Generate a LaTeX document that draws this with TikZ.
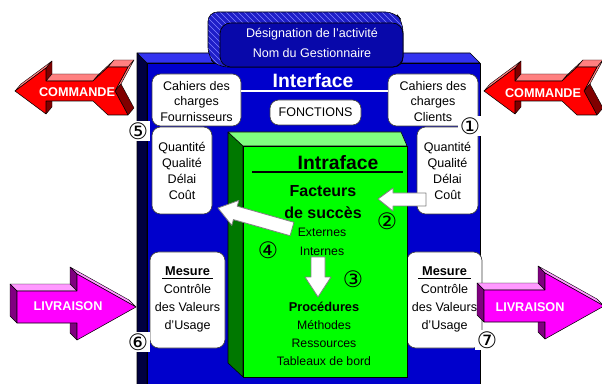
\documentclass[tikz,border=0pt]{standalone}
\usepackage{fontspec}
\setmainfont{Liberation Sans}
\newfontfamily\dvfont{DejaVu Sans}
\definecolor{bfront}{RGB}{0,0,204}
\definecolor{btop}{RGB}{51,51,240}
\definecolor{bside}{RGB}{0,0,64}
\definecolor{dfront}{RGB}{8,8,170}
\definecolor{dhatch}{RGB}{30,30,200}
\definecolor{hatchc}{RGB}{130,130,255}
\definecolor{gfront}{RGB}{0,255,0}
\definecolor{gtop}{RGB}{128,255,128}
\definecolor{gside}{RGB}{0,120,0}
\definecolor{rfront}{RGB}{255,0,0}
\definecolor{rtop}{RGB}{255,128,128}
\definecolor{rside}{RGB}{128,0,0}
\definecolor{mfront}{RGB}{255,0,255}
\definecolor{mtop}{RGB}{255,153,255}
\definecolor{mside}{RGB}{128,0,128}
\newcommand\arrface[5]{\filldraw[fill=#5,draw=black,line width=0.3pt] (#1,#2) -- (#3,#4) -- ({#3+\ddx},{#4+\ddy}) -- ({#1+\ddx},{#2+\ddy}) -- cycle;}
\begin{document}
\begin{tikzpicture}[x=0.75pt,y=-0.75pt,line join=round,
  wbox/.style={draw=black!75,fill=white,rounded corners=6.5pt,line width=0.5pt},
  txt/.style={font=\fontsize{9.4}{12}\selectfont,align=center,inner sep=0pt},
  btxt/.style={font=\bfseries\fontsize{9.6}{12}\selectfont,align=center,inner sep=0pt},
  dtxt/.style={font=\fontsize{9.4}{12}\selectfont,text=white,inner sep=0pt},
  bigtxt/.style={font=\bfseries\fontsize{14.5}{16}\selectfont,inner sep=0pt},
  cmdtxt/.style={font=\bfseries\fontsize{9.5}{11}\selectfont,text=white,inner sep=0pt},
  num/.style={font=\dvfont\fontsize{17}{17}\selectfont,inner sep=0.5pt},
  numbg/.style={num,fill=white,inner sep=1.5pt},
  warrow/.style={fill=white,draw=black!50,line width=0.6pt},
  edge3d/.style={draw=black,line width=0.4pt}]
\useasboundingbox (0,0) rectangle (602,384);
\clip (0,0) rectangle (602,384);

% ---------- blue main block ----------
\filldraw[fill=bside,edge3d] (137,53) -- (147,63) -- (147,392) -- (137,392) -- cycle;
\filldraw[fill=btop,edge3d] (137,53) -- (470,53) -- (480,63) -- (147,63) -- cycle;
\filldraw[fill=bfront,edge3d] (147,63) rectangle (480,392);

% ---------- designation block ----------
\begin{scope}
\clip[rounded corners=7] (208,12) -- (395,12) -- (403,22) -- (403,67) -- (218,67) -- (208,57) -- cycle;
\fill[dhatch] (200,5) rectangle (410,70);
\foreach \i in {0,6,...,270} \draw[hatchc,line width=0.5pt] ({130+\i},0) -- ({200+\i},70);
\end{scope}
\draw[edge3d,rounded corners=7] (208,12) -- (395,12) -- (403,22) -- (403,67) -- (218,67) -- (208,57) -- cycle;
\filldraw[fill=dfront,draw=black,line width=0.5pt,rounded corners=8] (220,23) rectangle (403,67);
\node[dtxt] (des1) at (312,34) {Désignation de l'activité};
\node[dtxt] (des2) at (312,53) {Nom du Gestionnaire};

% ---------- COMMANDE arrows ----------
\begin{scope}[shift={(15,91)}]
\def\ddx{6}\def\ddy{-7}
\arrface{0}{0}{31}{-23}{rtop}
\arrface{31}{-23}{31}{-10}{rside}
\arrface{31}{-10}{78}{-10}{rtop}
\arrface{78}{-10}{93}{-24}{rtop}
\arrface{93}{-24}{113}{-24}{rtop}
\arrface{113}{-24}{100}{0}{rtop}
\arrface{100}{0}{113}{24}{rside}
\arrface{31}{10}{31}{23}{rside}
\filldraw[fill=rfront,edge3d] (0,0) -- (31,-23) -- (31,-10) -- (78,-10) -- (93,-24) -- (113,-24) -- (100,0) -- (113,24) -- (93,24) -- (78,10) -- (31,10) -- (31,23) -- cycle;
\node[cmdtxt] (cmdL) at (62,1) {COMMANDE};
\end{scope}
\begin{scope}[shift={(484,91)}]
\def\ddx{6}\def\ddy{-7}
\arrface{0}{0}{31}{-23}{rtop}
\arrface{31}{-23}{31}{-10}{rside}
\arrface{31}{-10}{78}{-10}{rtop}
\arrface{78}{-10}{93}{-24}{rtop}
\arrface{93}{-24}{113}{-24}{rtop}
\arrface{113}{-24}{100}{0}{rtop}
\arrface{100}{0}{113}{24}{rside}
\arrface{31}{10}{31}{23}{rside}
\filldraw[fill=rfront,edge3d] (0,0) -- (31,-23) -- (31,-10) -- (78,-10) -- (93,-24) -- (113,-24) -- (100,0) -- (113,24) -- (93,24) -- (78,10) -- (31,10) -- (31,23) -- cycle;
\node[cmdtxt] (cmdR) at (59,2) {COMMANDE};
\end{scope}

% ---------- Interface ----------
\node[bigtxt,text=white] (itf) at (313,81) {Interface};

% white boxes
\path[wbox] (152,74) rectangle (241,126);
\node[txt,font=\fontsize{9.4}{11.6}\selectfont] (lcah) at (196.5,101.5) {Cahiers des\\charges\\Fournisseurs};
\path[wbox] (388,74) rectangle (478,126);
\node[txt,font=\fontsize{9.4}{11.6}\selectfont] (rcah) at (433,101.5) {Cahiers des\\charges\\Clients};
\draw[white,line width=1.6pt] (241,91) -- (388,91);
\path[wbox] (270,100) rectangle (361,125);
\node[txt] (fct) at (315.5,112.5) {FONCTIONS};

\path[wbox] (152,127) rectangle (212,214);
\node[txt] (lq) at (182,171) {Quantité\\Qualité\\Délai\\Coût};
\path[wbox] (417,127) rectangle (478,214);
\node[txt] (rq) at (447.5,171) {Quantité\\Qualité\\Délai\\Coût};

\path[wbox] (150,252) rectangle (225,348);
\node[btxt] (lmes) at (187.5,271) {Mesure};
\draw[black,line width=1.2pt] (162,278.5) -- (213,278.5);
\node[txt,font=\fontsize{9.4}{13.5}\selectfont] (lctl) at (187.5,308) {Contrôle\\des Valeurs\\d'Usage};
\path[wbox] (407,252) rectangle (482,348);
\node[btxt] (rmes) at (444.5,271) {Mesure};
\draw[black,line width=1.2pt] (418,278.5) -- (471,278.5);
\node[txt,font=\fontsize{9.4}{13.5}\selectfont] (rctl) at (444.5,308) {Contrôle\\des Valeurs\\d'Usage};

% ---------- green block ----------
\filldraw[fill=gside,edge3d] (228,132) -- (243,146) -- (243,377) -- (228,363) -- cycle;
\filldraw[fill=gtop,edge3d] (228,132) -- (401,132) -- (407,146) -- (243,146) -- cycle;
\filldraw[fill=gfront,edge3d] (243,146) rectangle (407,377);
\node[bigtxt] (intra) at (338,163) {Intraface};
\draw[black,line width=1.6pt] (252,172) -- (403,172);
\node[font=\bfseries\fontsize{12}{16.5}\selectfont,align=center,inner sep=0pt] (fact) at (323,202) {Facteurs\\de succès};
\node[txt,font=\fontsize{9.2}{14.25}\selectfont] (ext) at (322,241.5) {Externes\\Internes};
\node[txt,font=\fontsize{9.2}{13.5}\selectfont] (proc) at (324,333.5) {\textbf{\fontsize{9.6}{13.5}\selectfont Procédures}\\Méthodes\\Ressources\\Tableaux de bord};

% white arrows
\filldraw[warrow] (378,199) -- (393,188) -- (393,193) -- (426,193) -- (426,206) -- (393,206) -- (393,211) -- cycle;
\filldraw[warrow] (218,208) -- (238.9,200.4) -- (237.2,206.2) -- (293.9,222.3) -- (290.1,235.7) -- (233.4,219.6) -- (231.8,225.4) -- cycle;
\filldraw[warrow] (311,257) -- (325,257) -- (325,277) -- (331,277) -- (318,297) -- (305,277) -- (311,277) -- cycle;

% ---------- LIVRAISON arrows ----------
\begin{scope}[shift={(136,307)}]
\def\ddx{-7}\def\ddy{-7}
\arrface{0}{0}{-59}{-33}{mtop}
\arrface{-59}{-33}{-59}{-16}{mside}
\arrface{-59}{-16}{-119}{-16}{mtop}
\arrface{-119}{-16}{-119}{16}{mside}
\arrface{-59}{16}{-59}{33}{mside}
\filldraw[fill=mfront,edge3d] (0,0) -- (-59,-33) -- (-59,-16) -- (-119,-16) -- (-119,16) -- (-59,16) -- (-59,33) -- cycle;
\node[cmdtxt] (livL) at (-68,-1) {LIVRAISON};
\end{scope}
\begin{scope}[shift={(604,306)}]
\def\ddx{-7}\def\ddy{-7}
\arrface{0}{0}{-59}{-33}{mtop}
\arrface{-59}{-33}{-59}{-16}{mside}
\arrface{-59}{-16}{-120}{-16}{mtop}
\arrface{-120}{-16}{-120}{16}{mside}
\arrface{-59}{16}{-59}{33}{mside}
\filldraw[fill=mfront,edge3d] (0,0) -- (-59,-33) -- (-59,-16) -- (-120,-16) -- (-120,16) -- (-59,16) -- (-59,33) -- cycle;
\node[cmdtxt] (livR) at (-74,1) {LIVRAISON};
\end{scope}

% ---------- numbers ----------
\node[numbg] (n1) at (470,126) {①};
\node[num] (n2) at (387,221) {②};
\node[num] (n3) at (353,279) {③};
\node[num] (n4) at (268,250) {④};
\node[numbg] (n5) at (138,131) {⑤};
\node[numbg] (n6) at (138,342) {⑥};
\node[numbg] (n7) at (487,340) {⑦};
\end{tikzpicture}
\end{document}
